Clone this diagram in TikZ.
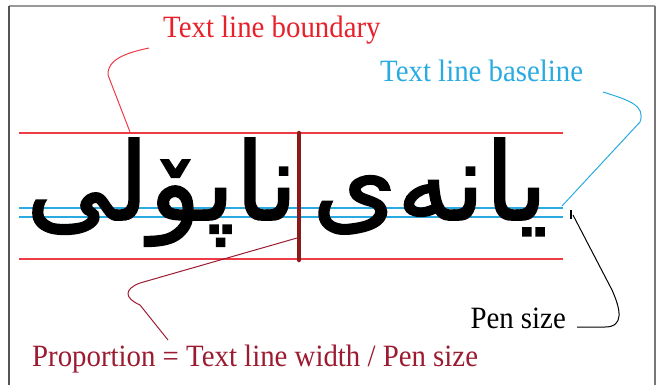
\documentclass[tikz,border=0pt]{standalone}
\usepackage{fontspec}
\setmainfont{Liberation Serif}[FakeStretch=0.93]
\newfontfamily\arabicfont[Script=Arabic,FakeBold=1.5]{DejaVu Sans}
\TeXXeTstate=1
\definecolor{bndred}{HTML}{EE3B46}
\definecolor{lblred}{HTML}{E8202A}
\definecolor{baseblue}{HTML}{29AAE1}
\definecolor{darkred}{HTML}{8B1A1A}
\definecolor{proprd}{HTML}{9B1B30}
\definecolor{framegray}{HTML}{555555}
\begin{document}
\begin{tikzpicture}[x=1pt,y=-1pt,
  lbl/.style={inner sep=0pt,font=\fontsize{31}{36}\selectfont},
  arab/.style={inner sep=0pt,font=\fontsize{108}{120}\arabicfont},
  guide/.style={line width=1.3pt},
  callout/.style={line width=1pt}]
\useasboundingbox (0,0) rectangle (659,385);
% frame
\draw[framegray!60,line width=1.5pt] (9,6) -- (655,6);
\draw[framegray,line width=1.5pt] (9,6) -- (9,386);
\draw[framegray!80,line width=1.5pt] (655,6) -- (655,386);
% guide lines
\draw[guide,bndred] (19,133) -- (563,133);
\draw[guide,bndred] (19,259) -- (563,259);
\draw[guide,baseblue] (19,208) -- (563,208);
\draw[guide,baseblue] (19,217) -- (563,217);
% words
\node[arab,anchor=base] (wr) at (430,220) {\beginR یانەی\endR};
\node[arab,anchor=base] (wl) at (162,220) {\beginR ناپۆلی\endR};
% separator bar
\draw[darkred,line width=4.5pt,line cap=round] (299,133) -- (299,260);
% labels
\node[lbl,text=lblred,anchor=base west] (lb) at (163,38) {Text line boundary};
\node[lbl,text=baseblue,anchor=base west] (lbase) at (380,82) {Text line baseline};
\node[lbl,text=black,anchor=base east] (lpen) at (566,328) {Pen size};
\node[lbl,text=proprd,anchor=base west] (lprop) at (32,366) {Proportion = Text line width / Pen size};
% coordinates
\coordinate (rs) at (149,48);
\coordinate (re) at (130,132);
\coordinate (bs) at (603,92);
\coordinate (be) at (562,206);
\coordinate (ks) at (573,215);
\coordinate (ke) at (577,327);
\coordinate (ps) at (297,238);
\coordinate (pe) at (168,340);
% callouts
\draw[callout,bndred] (rs) .. controls (125,53) and (107,60) .. (108,75) -- (re);
\draw[callout,baseblue] (bs) .. controls (628,100) and (646,105) .. (640,122) -- (be);
\draw[black,line width=1.6pt] (571,210) -- (571,219);
\draw[callout,black] (ks) -- (612,290) .. controls (621,310) and (624,327) .. (605,327) -- (ke);
\draw[callout,proprd] (ps) -- (140,283) .. controls (124,289) and (124,298) .. (140,305) -- (pe);
\end{tikzpicture}
\end{document}
